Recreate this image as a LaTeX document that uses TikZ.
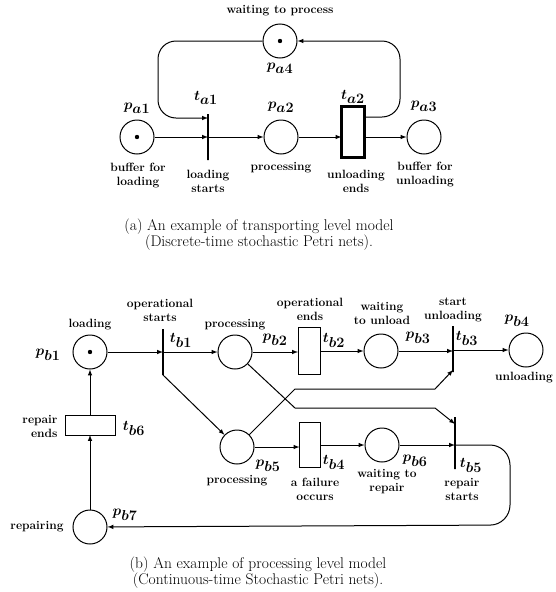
\documentclass[tikz,border=0pt]{standalone}
\usepackage{amsmath}

\tikzset{
	place/.style={circle, draw, line width=1pt, minimum size=34pt, inner sep=0pt},
	token/.style={path picture={\fill (path picture bounding box.center) circle (2.2pt);}},
	bar/.style={draw, line width=1.1pt, minimum width=0pt, inner sep=0pt, outer sep=0pt},
	box/.style={draw, line width=1pt, inner sep=0pt, outer sep=0pt},
	lbl/.style={font=\fontsize{12}{14}\selectfont\bfseries, align=center, inner sep=0pt},
	mlbl/.style={font=\fontsize{14}{14}\selectfont\boldmath, inner sep=0pt},
	captext/.style={font=\fontsize{15.5}{16}\selectfont, align=center, inner sep=0pt},
	flow/.style={->, >=latex, line width=1pt}
}

\begin{document}
\begin{tikzpicture}[x=1pt, y=-1pt]
	\useasboundingbox (0,0) rectangle (555,592);
	% (a) transporting level
	\node[place, token] (pa4) at (280,41) {};
	\node[place, token] (pa1) at (137,137) {};
	\node[bar, minimum height=46pt] (ta1) at (208,137) {};
	\node[place] (pa2) at (281,137) {};
	\node[box, line width=3.2pt, minimum width=23pt, minimum height=51pt] (ta2) at (353,132) {};
	\node[place] (pa3) at (424,137) {};

	\node[lbl] (wtp) at (280,11) {waiting to process};
	\node[mlbl] (lpa4) at (280,68) {$p_{\textstyle a4}$};
	\node[mlbl] (lpa1) at (137,108) {$p_{\textstyle a1}$};
	\node[mlbl] (lta1) at (206,98) {$t_{\textstyle a1}$};
	\node[mlbl] (lpa2) at (281,107) {$p_{\textstyle a2}$};
	\node[mlbl] (lta2) at (353,97) {$t_{\textstyle a2}$};
	\node[mlbl] (lpa3) at (424,106) {$p_{\textstyle a3}$};
	\node[lbl] (bfl) at (138,176) {buffer for\\loading};
	\node[lbl] (lst) at (208,181) {loading\\starts};
	\node[lbl] (prc) at (281,168) {processing};
	\node[lbl] (ule) at (356,181) {unloading\\ends};
	\node[lbl] (bfu) at (425,175) {buffer for\\unloading};

	\draw[flow] (pa1) -- (ta1);
	\draw[flow] (ta1) -- (pa2);
	\draw[flow] (pa2) -- (pa2 -| ta2.west);
	\draw[flow] (ta2.east |- pa3) -- (pa3);
	\draw[flow, rounded corners=18pt] (pa4) -- (158,41) -- (158,118) -- (ta1.north |- 0,118);
	\draw[flow, rounded corners=18pt] (ta2.east |- 0,117) -- (400,117) -- (400,41) -- (pa4);

	\node[captext] (capa) at (259,235) {(a) An example of transporting level model\\(Discrete-time stochastic Petri nets).};

	% (b) processing level
	\node[place, token] (pb1) at (90,352) {};
	\node[bar, minimum height=46pt] (tb1) at (163,352) {};
	\node[place] (pb2) at (235,352) {};
	\node[box, minimum width=22pt, minimum height=47pt] (tb2) at (309,351) {};
	\node[place] (pb3) at (381,351) {};
	\node[bar, minimum height=46pt] (tb3) at (453,349) {};
	\node[place] (pb4) at (526,350) {};
	\node[place] (pb5) at (237,447) {};
	\node[box, minimum width=21pt, minimum height=45pt] (tb4) at (310,445) {};
	\node[place] (pb6) at (382,445) {};
	\node[bar, minimum height=52pt] (tb5) at (455,443) {};
	\node[box, minimum width=50pt, minimum height=20pt] (tb6) at (90,425) {};
	\node[place] (pb7) at (90,527) {};

	\node[lbl] (lod) at (90,325) {loading};
	\node[mlbl] (lpb1) at (48,355) {$p_{\textstyle b1}$};
	\node[lbl] (ops) at (160,310) {operational\\starts};
	\node[mlbl] (ltb1) at (181,340) {$t_{\textstyle b1}$};
	\node[lbl] (prb) at (235,325) {processing};
	\node[mlbl] (lpb2) at (275,340) {$p_{\textstyle b2}$};
	\node[lbl] (ope) at (310,309) {operational\\ends};
	\node[mlbl] (ltb2) at (334,340) {$t_{\textstyle b2}$};
	\node[lbl] (wtu) at (382,313) {waiting\\to unload};
	\node[mlbl] (lpb3) at (418,338) {$p_{\textstyle b3}$};
	\node[lbl] (stu) at (453,310) {start\\unloading};
	\node[mlbl] (ltb3) at (467,338) {$t_{\textstyle b3}$};
	\node[mlbl] (lpb4) at (517,321) {$p_{\textstyle b4}$};
	\node[lbl] (unl) at (524,378) {unloading};
	\node[mlbl] (lpb5) at (268,466) {$p_{\textstyle b5}$};
	\node[lbl] (prc2) at (237,481) {processing};
	\node[lbl] (afo) at (315,489) {a failure\\occurs};
	\node[mlbl] (ltb4) at (334,462) {$t_{\textstyle b4}$};
	\node[mlbl] (lpb6) at (415,461) {$p_{\textstyle b6}$};
	\node[lbl] (wtr) at (387,482) {waiting to\\repair};
	\node[lbl] (rps) at (462,489) {repair\\starts};
	\node[mlbl] (ltb5) at (471,465) {$t_{\textstyle b5}$};
	\node[lbl, align=right] (rpe) at (40,426) {repair\\ends};
	\node[mlbl] (ltb6) at (134,428) {$t_{\textstyle b6}$};
	\node[mlbl] (lpb7) at (125,515) {$p_{\textstyle b7}$};
	\node[lbl] (rpr) at (37,527) {repairing};

	\draw[flow] (pb1) -- (pb1 -| tb1);
	\draw[flow] (pb2 -| tb1) -- (pb2);
	\draw[flow] (pb2) -- (pb2 -| tb2.west);
	\draw[flow] (tb2.east |- pb3) -- (pb3);
	\draw[flow] (pb3) -- (pb3 -| tb3);
	\draw[flow] (pb4 -| tb3) -- (pb4);
	\draw[flow] (tb1.south) -- (pb5);
	\draw[flow] (pb5) -- (pb5 -| tb4.west);
	\draw[flow] (tb4.east |- pb6) -- (pb6);
	\draw[flow] (pb6) -- (pb6 -| tb5);
	\draw[flow] (pb5) -- (295,389) -- (435,389) -- ([yshift=2pt]tb3.south);
	\draw[flow] (pb2) -- (295,408) -- (435,408) -- ([yshift=-7pt]tb5.north);
	\draw[flow, rounded corners=20pt] (pb6 -| tb5) -- (510,445) -- (510,525) -- (pb7);
	\draw[flow] (pb7) -- (tb6);
	\draw[flow] (tb6) -- (pb1);

	\node[captext] (capb) at (258,573) {(b) An example of processing level model\\(Continuous-time Stochastic Petri nets).};
\end{tikzpicture}
\end{document}
